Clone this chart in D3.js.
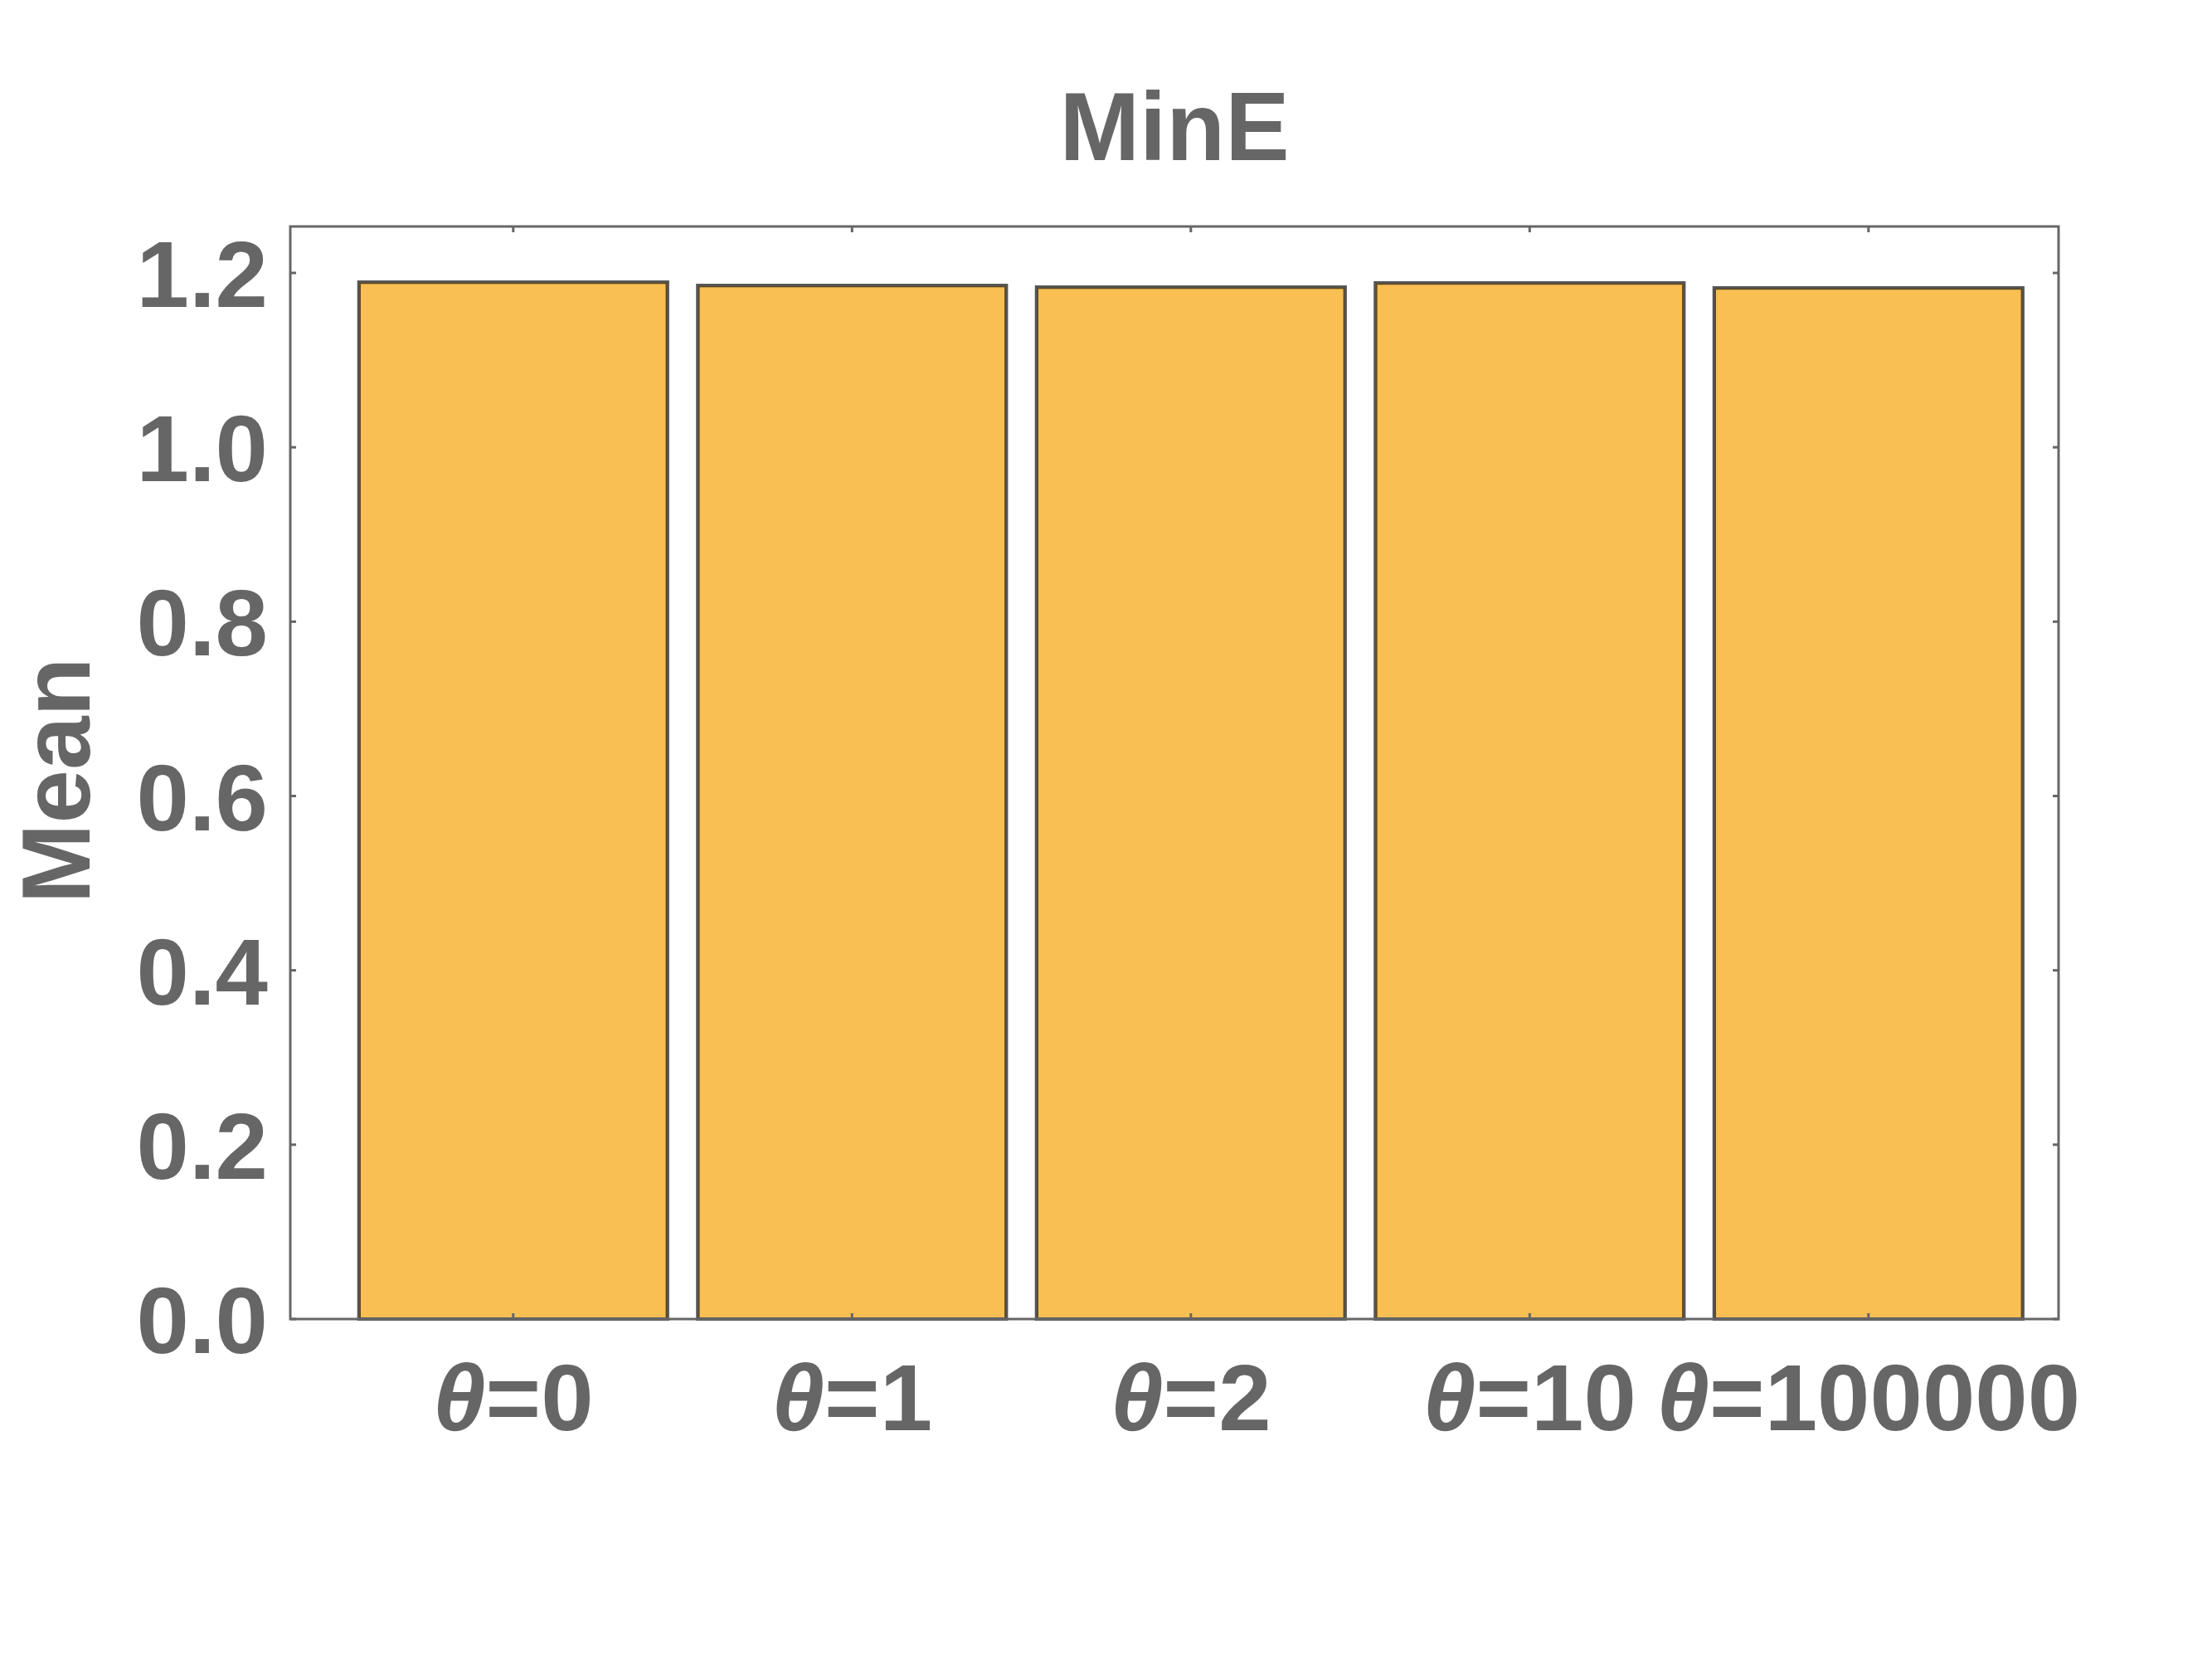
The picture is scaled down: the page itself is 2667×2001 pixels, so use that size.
<!DOCTYPE html>
<html>
<head>
<meta charset="utf-8">
<script src="https://cdn.jsdelivr.net/npm/d3@7"></script>
<style>
  html, body { margin: 0; padding: 0; background: #fff; }
  svg { display: block; }
</style>
</head>
<body>
<script>
// ---- data ----
const categories = ["0", "1", "2", "10", "100000"];
const means = [1.1895, 1.1857, 1.1838, 1.1886, 1.1829];
const yTicks = [0, 0.2, 0.4, 0.6, 0.8, 1.0, 1.2];
const title = "MinE";
const yLabel = "Mean";

// ---- layout ----
const W = 2667, H = 2001;
const frame = { left: 350, right: 2482, top: 273, bottom: 1590 };
const font = "'Liberation Sans', Arial, Helvetica, sans-serif";
const textColor = "#666666";
const fs = 114;

const svg = d3.select("body").append("svg")
  .attr("width", W).attr("height", H)
  .attr("viewBox", `0 0 ${W} ${H}`);

const idx = categories.map((c, i) => i + 1);
const x = d3.scaleLinear().domain([0.342, 5.561]).range([frame.left, frame.right]);
const y = d3.scaleLinear().domain([0, 1.2533]).range([frame.bottom, frame.top]);
const barW = 0.911;

const barG = svg.append("g");
// bar fill with outer grey edge
barG.selectAll("rect.bar")
  .data(means)
  .join("rect")
  .attr("class", "bar")
  .attr("x", (d, i) => x(idx[i] - barW / 2))
  .attr("width", (d, i) => x(idx[i] + barW / 2) - x(idx[i] - barW / 2))
  .attr("y", d => y(d))
  .attr("height", d => y(0) - y(d))
  .attr("fill", "#F9BF53")
  .attr("stroke", "#555555")
  .attr("stroke-width", 4);
// inner brownish edge
barG.selectAll("rect.inner")
  .data(means)
  .join("rect")
  .attr("class", "inner")
  .attr("x", (d, i) => x(idx[i] - barW / 2) + 1.5)
  .attr("width", (d, i) => x(idx[i] + barW / 2) - x(idx[i] - barW / 2) - 3)
  .attr("y", d => y(d) + 1.5)
  .attr("height", d => y(0) - y(d) - 1.5)
  .attr("fill", "none")
  .attr("stroke", "#5e4a22")
  .attr("stroke-width", 1.5);

// frame
svg.append("rect")
  .attr("x", frame.left).attr("y", frame.top)
  .attr("width", frame.right - frame.left)
  .attr("height", frame.bottom - frame.top)
  .attr("fill", "none")
  .attr("stroke", "#666666")
  .attr("stroke-width", 3);

const tickLen = 7;
const tickG = svg.append("g").attr("stroke", "#666666").attr("stroke-width", 3);
// x ticks bottom & top (inward)
idx.forEach(v => {
  tickG.append("line").attr("x1", x(v)).attr("x2", x(v))
    .attr("y1", frame.bottom).attr("y2", frame.bottom - tickLen);
  tickG.append("line").attr("x1", x(v)).attr("x2", x(v))
    .attr("y1", frame.top).attr("y2", frame.top + tickLen);
});
// y ticks left & right (inward)
yTicks.forEach(v => {
  tickG.append("line").attr("x1", frame.left).attr("x2", frame.left + tickLen)
    .attr("y1", y(v)).attr("y2", y(v));
  tickG.append("line").attr("x1", frame.right).attr("x2", frame.right - tickLen)
    .attr("y1", y(v)).attr("y2", y(v));
});

// y tick labels
svg.append("g").selectAll("text")
  .data(yTicks)
  .join("text")
  .attr("x", frame.left - 27)
  .attr("y", d => y(d) + 41)
  .attr("text-anchor", "end")
  .attr("font-family", font)
  .attr("font-weight", "bold")
  .attr("font-size", fs)
  .attr("fill", textColor)
  .text(d => d3.format(".1f")(d));

// x tick labels
const xl = svg.append("g").selectAll("text")
  .data(categories)
  .join("text")
  .attr("x", (d, i) => x(idx[i]))
  .attr("y", 1724)
  .attr("text-anchor", "middle")
  .attr("font-family", font)
  .attr("font-weight", "bold")
  .attr("font-size", fs)
  .attr("fill", textColor);
xl.append("tspan").attr("font-style", "italic").text("θ");
xl.append("tspan").text(d => "=" + d);

// title
svg.append("text")
  .attr("x", (frame.left + frame.right) / 2)
  .attr("y", 193)
  .attr("text-anchor", "middle")
  .attr("font-family", font)
  .attr("font-weight", "bold")
  .attr("font-size", 116)
  .attr("fill", textColor)
  .text(title);

// y label
svg.append("text")
  .attr("transform", `translate(108, 941) rotate(-90)`)
  .attr("text-anchor", "middle")
  .attr("font-family", font)
  .attr("font-weight", "bold")
  .attr("font-size", 116)
  .attr("fill", textColor)
  .text(yLabel);
</script>
</body>
</html>
